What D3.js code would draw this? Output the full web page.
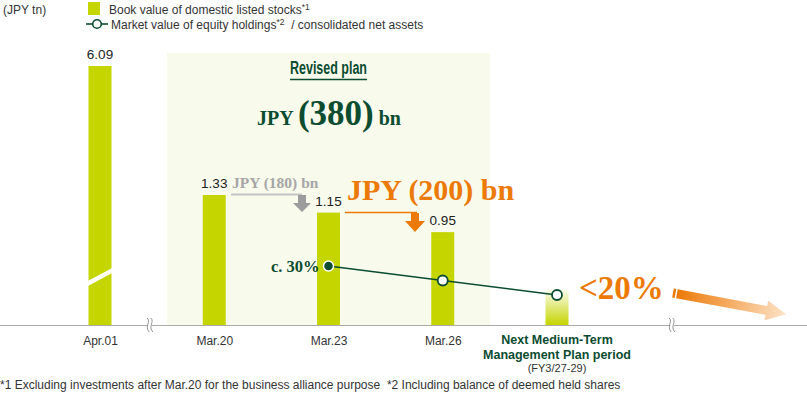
<!DOCTYPE html>
<html><head><meta charset="utf-8">
<script src="https://cdn.jsdelivr.net/npm/d3@7"></script>
<style>
html,body{margin:0;padding:0;background:#fff;}
svg{display:block;}
text{font-family:"Liberation Sans",Arial,sans-serif;white-space:pre;}
.serif{font-family:"Liberation Serif","DejaVu Serif",serif;font-weight:bold;}
</style></head>
<body>
<svg id="chart" width="807" height="394"></svg>
<script>
// ---- data ----
const categories = ["Apr.01", "Mar.20", "Mar.23", "Mar.26", "Next"];
const bookValues = [6.09, 1.33, 1.15, 0.95, null];
const ratioCategories = ["Mar.23", "Mar.26", "Next"];
const ratioValues = [30, 25, 20];
const ratioLabels = ["c. 30%", "", "<20%"];
const axisLabels = ["Apr.01", "Mar.20", "Mar.23", "Mar.26", ""];
const nextLabelLines = ["Next Medium-Term", "Management Plan period"];
const nextLabelSub = "(FY3/27-29)";
const legendItems = [["Book value of domestic listed stocks", "*1", ""], ["Market value of equity holdings", "*2", "  / consolidated net assets"]];
const unitLabel = "(JPY tn)";
const planTitle = "Revised plan";
const planTotal = ["JPY", "(380)", "bn"];
const stepReductions = ["JPY (180) bn", "JPY (200) bn"];
const footnote = "*1 Excluding investments after Mar.20 for the business alliance purpose\u00a0\u00a0*2 Including balance of deemed held shares";

// ---- styles ----
const GREEN_BAR = "#c5d500";
const DARK_GREEN = "#0c4c30";
const ORANGE = "#ec7a08";
const GRAY = "#a6a6a6";
const PLAN_BG = "#f8faec";
const base = 325;

const svg = d3.select("#chart");
const defs = svg.append("defs");

const x = d3.scalePoint().domain(categories).range([100, 557]);
const y = d3.scaleLinear().domain([0, 2.65]).range([base, 66]).clamp(true);
const yr = d3.scaleLinear().domain([20, 30]).range([295, 266]);
const barW = 23;

// plan background
svg.append("rect").attr("x", 167).attr("y", 53).attr("width", 323).attr("height", base - 53).attr("fill", PLAN_BG);

// gradient for next bar
const g1 = defs.append("linearGradient").attr("id", "nextGrad").attr("x1", 0).attr("y1", 0).attr("x2", 0).attr("y2", 1);
g1.append("stop").attr("offset", "0%").attr("stop-color", GREEN_BAR).attr("stop-opacity", 0.05);
g1.append("stop").attr("offset", "100%").attr("stop-color", GREEN_BAR).attr("stop-opacity", 1);

// bars
const barData = categories.map((c, i) => ({c, v: bookValues[i]}));
svg.selectAll("rect.bar").data(barData.filter(d => d.v != null)).join("rect")
  .attr("class", "bar")
  .attr("x", d => x(d.c) - barW / 2).attr("width", barW)
  .attr("y", d => y(d.v)).attr("height", d => base - y(d.v))
  .attr("fill", GREEN_BAR);
// next period bar (target, gradient)
svg.append("rect").attr("x", x("Next") - barW / 2).attr("width", barW)
  .attr("y", yr(20) - 6).attr("height", base - yr(20) + 6).attr("fill", "url(#nextGrad)");

// break marker on first bar
const bx = x(categories[0]);
svg.append("path")
  .attr("d", `M${bx - 14},${282} L${bx + 14},${267} L${bx + 14},${272} L${bx - 14},${287} Z`)
  .attr("fill", "#fff");

// value labels
svg.selectAll("text.val").data(barData.filter(d => d.v != null)).join("text")
  .attr("class", "val")
  .attr("x", d => x(d.c)).attr("y", d => y(d.v) - 7)
  .attr("text-anchor", "middle").attr("font-size", 13.5).attr("fill", "#222")
  .text(d => d.v.toFixed(2));

// axis
svg.append("line").attr("x1", 0).attr("x2", 807).attr("y1", base + 0.5).attr("y2", base + 0.5)
  .attr("stroke", "#aaa").attr("stroke-width", 1.2);
const xAxis = d3.axisBottom(x).tickSize(0).tickPadding(11).tickFormat((d, i) => axisLabels[i]);
const ax = svg.append("g").attr("transform", `translate(0,${base})`).call(xAxis);
ax.select(".domain").remove();
ax.selectAll("text").attr("font-size", 12).attr("fill", "#333").attr("font-family", "Liberation Sans, Arial, sans-serif");

// axis break squiggles
[150, 672].forEach(px => {
  const g = svg.append("g").attr("transform", `translate(${px},${base})`);
  g.append("rect").attr("x", -2).attr("y", -3).attr("width", 4).attr("height", 7).attr("fill", "#fff");
  [-1.8, 1.8].forEach(o => {
    g.append("path").attr("d", `M${o - 1},-7 C${o + 3},-3 ${o - 4},1 ${o + 1},7`)
      .attr("fill", "none").attr("stroke", "#888").attr("stroke-width", 0.9);
  });
});

// next label
const nx = x("Next");
nextLabelLines.forEach((t, i) => {
  svg.append("text").attr("x", nx).attr("y", 344 + i * 15).attr("text-anchor", "middle")
    .attr("font-size", 12.5).attr("font-weight", "bold").attr("fill", DARK_GREEN).text(t);
});
svg.append("text").attr("x", nx).attr("y", 372).attr("text-anchor", "middle")
  .attr("font-size", 11).attr("fill", "#333").text(nextLabelSub);

// ratio line
const ratioData = ratioCategories.map((c, i) => ({c, v: ratioValues[i], l: ratioLabels[i]}));
const line = d3.line().x(d => x(d.c)).y(d => yr(d.v));
svg.append("path").datum(ratioData).attr("d", line).attr("fill", "none")
  .attr("stroke", DARK_GREEN).attr("stroke-width", 1.6);
svg.selectAll("circle.pt").data(ratioData).join("circle")
  .attr("class", "pt").attr("cx", d => x(d.c)).attr("cy", d => yr(d.v)).attr("r", 5)
  .attr("fill", (d, i) => i === 0 ? DARK_GREEN : "#fff")
  .attr("stroke", (d, i) => i === 0 ? "#fff" : DARK_GREEN)
  .attr("stroke-width", (d, i) => i === 0 ? 1.5 : 1.8);
// c. 30% label
svg.append("text").attr("class", "serif").attr("x", x(ratioData[0].c) - 9).attr("y", yr(ratioData[0].v) + 6)
  .attr("text-anchor", "end").attr("font-size", 16.5).attr("fill", DARK_GREEN).text(ratioData[0].l);
// <20% label
svg.append("text").attr("class", "serif").attr("x", 579).attr("y", yr(ratioData[2].v) + 4)
  .attr("font-size", 33).attr("fill", ORANGE).text(ratioData[2].l);

// orange gradient arrow
const g2 = defs.append("linearGradient").attr("id", "arrGrad").attr("x1", 0).attr("y1", 0).attr("x2", 1).attr("y2", 0);
g2.append("stop").attr("offset", "0%").attr("stop-color", ORANGE);
g2.append("stop").attr("offset", "100%").attr("stop-color", "#fde2c6");
const ag = svg.append("g").attr("transform", "translate(673,293) rotate(10.6)");
ag.append("rect").attr("x", 0).attr("y", -4.5).attr("width", 2.5).attr("height", 9).attr("fill", ORANGE);
ag.append("path").attr("d", "M4,-4.5 L95,-4.5 L95,-10 L115,0 L95,10 L95,4.5 L4,4.5 Z")
  .attr("fill", "url(#arrGrad)");

// plan title
svg.append("text").attr("x", 290).attr("y", 74)
  .attr("font-family", "'Liberation Sans Narrow', 'DejaVu Sans Condensed', sans-serif")
  .attr("font-weight", "bold").attr("font-size", 17.5).attr("fill", DARK_GREEN)
  .attr("textLength", 77).attr("lengthAdjust", "spacingAndGlyphs").text(planTitle);
svg.append("line").attr("x1", 290).attr("x2", 367).attr("y1", 79.5).attr("y2", 79.5)
  .attr("stroke", DARK_GREEN).attr("stroke-width", 1.5);
const pt = svg.append("text").attr("class", "serif").attr("x", 329).attr("y", 125)
  .attr("text-anchor", "middle").attr("fill", DARK_GREEN);
pt.append("tspan").attr("font-size", 20).text(planTotal[0] + " ");
pt.append("tspan").attr("font-size", 35).text(planTotal[1]);
pt.append("tspan").attr("font-size", 20).text(" " + planTotal[2]);

// step reduction annotations
svg.append("text").attr("class", "serif").attr("x", 232).attr("y", 188).attr("font-size", 15.5)
  .attr("fill", GRAY).text(stepReductions[0]);
svg.append("path").attr("d", `M231,194.5 L302,194.5`).attr("stroke", "#c4c4c4").attr("stroke-width", 2);
svg.append("path").attr("d", "M298,195 L306,195 L306,203 L311,203 L302,212 L293,203 L298,203 Z").attr("fill", "#9c9c9c");

svg.append("text").attr("class", "serif").attr("x", 347).attr("y", 200).attr("font-size", 30)
  .attr("fill", ORANGE).text(stepReductions[1]);
svg.append("path").attr("d", `M345,212.5 L417,212.5`).attr("stroke", ORANGE).attr("stroke-width", 1.6);
svg.append("path").attr("d", "M411,213 L419,213 L419,221 L425,221 L415,232 L405,221 L411,221 Z").attr("fill", ORANGE);

// legend & unit
svg.append("text").attr("x", 3).attr("y", 14).attr("font-size", 12).attr("fill", "#333").text(unitLabel);
svg.append("rect").attr("x", 88).attr("y", 2).attr("width", 12).attr("height", 13).attr("fill", GREEN_BAR);
function legendText(yPos, xPos, parts) {
  const t = svg.append("text").attr("x", xPos).attr("y", yPos).attr("font-size", 12).attr("fill", "#333");
  t.append("tspan").text(parts[0]);
  t.append("tspan").attr("font-size", 8.5).attr("dy", -4).text(parts[1]);
  t.append("tspan").attr("dy", 4).text(parts[2]);
}
legendText(14, 109, legendItems[0]);
svg.append("line").attr("x1", 86).attr("x2", 108).attr("y1", 24).attr("y2", 24).attr("stroke", DARK_GREEN).attr("stroke-width", 1.6);
svg.append("circle").attr("cx", 97).attr("cy", 24).attr("r", 4.3).attr("fill", "#fff").attr("stroke", DARK_GREEN).attr("stroke-width", 1.6);
legendText(28.5, 111, legendItems[1]);

// footnote
svg.append("text").attr("x", 0).attr("y", 389).attr("font-size", 12).attr("fill", "#333").text(footnote);
</script>
</body></html>
